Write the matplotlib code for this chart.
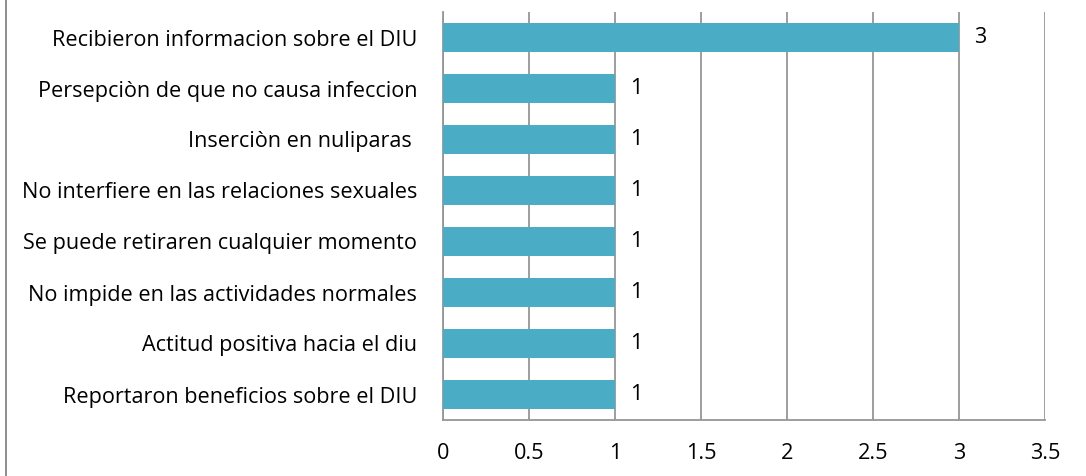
import matplotlib.pyplot as plt
from matplotlib.lines import Line2D

categories = [
    "Reportaron beneficios sobre el DIU",
    "Actitud positiva hacia el diu",
    "No impide en las actividades normales",
    "Se puede retiraren cualquier momento",
    "No interfiere en las relaciones sexuales",
    "Inserciòn en nuliparas ",
    "Persepciòn de que no causa infeccion",
    "Recibieron informacion sobre el DIU",
]
values = [1, 1, 1, 1, 1, 1, 1, 3]
x_ticks = [0, 0.5, 1, 1.5, 2, 2.5, 3, 3.5]
x_tick_labels = ["0", "0.5", "1", "1.5", "2", "2.5", "3", "3.5"]

plt.rcParams['font.family'] = ['Open Sans', 'DejaVu Sans']
fs = 15.6

fig = plt.figure(figsize=(10.86, 4.76), dpi=100)
ax = fig.add_axes([443 / 1086, 56 / 476, 602 / 1086, 408 / 476])

pos = list(range(len(categories)))
ax.barh(pos, values, height=0.57, color='#4BACC6', zorder=3)
for p, v in zip(pos, values):
    ax.text(v + 0.09, p, str(v), va='center', ha='left', fontsize=fs, color='#000000')

ax.set_xlim(0, 3.5)
ax.set_ylim(-0.5, 7.5)
ax.set_xticks(x_ticks)
ax.set_xticklabels(x_tick_labels, fontsize=fs)
ax.set_yticks(pos)
ax.set_yticklabels(categories, fontsize=fs)
ax.tick_params(axis='both', length=0)
ax.tick_params(axis='x', pad=16.5)
ax.tick_params(axis='y', pad=18.5)
ax.grid(axis='x', color='#969696', linewidth=1.3, zorder=0)
for s in ['top', 'right']:
    ax.spines[s].set_visible(False)
for s in ['left', 'bottom']:
    ax.spines[s].set_color('#969696')
    ax.spines[s].set_linewidth(1.3)

fig.add_artist(Line2D([5.5 / 1086, 5.5 / 1086], [0, 1], transform=fig.transFigure,
                      color='#868686', linewidth=1.3))

fig.savefig('out.png', dpi=100)
